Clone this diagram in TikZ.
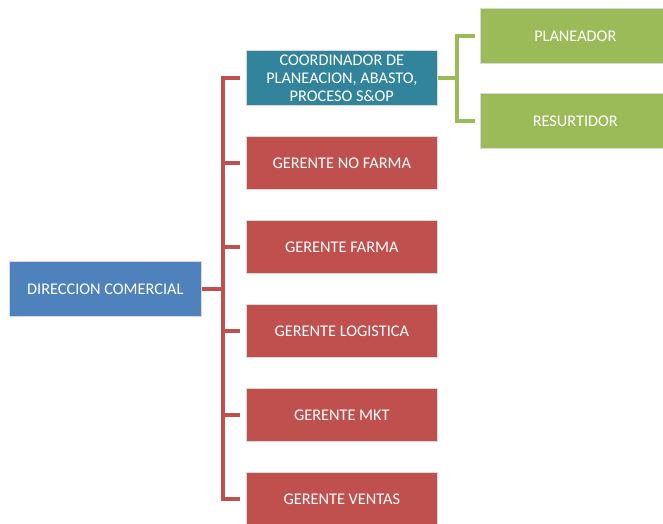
\documentclass[tikz,border=0pt]{standalone}
\usepackage{fontspec}
\setmainfont{Carlito}
\begin{document}
\begin{tikzpicture}[x=1pt,y=-1pt,
  box/.style={draw=white!85!black, line width=0.6pt, text=white, font=\fontsize{16.3}{18}\selectfont, align=center, inner sep=0pt, anchor=north west},
  bluebox/.style={box, fill={rgb,255:red,79;green,129;blue,189}},
  tealbox/.style={box, fill={rgb,255:red,49;green,132;blue,155}},
  redbox/.style={box, fill={rgb,255:red,192;green,80;blue,77}},
  greenbox/.style={box, fill={rgb,255:red,155;green,187;blue,89}},
  redline/.style={draw={rgb,255:red,192;green,80;blue,77}, line width=4pt},
  greenline/.style={draw={rgb,255:red,155;green,187;blue,89}, line width=4pt}
]
\useasboundingbox (0,0) rectangle (663,523);
\node[bluebox, minimum width=192pt, minimum height=55pt] (dc) at (9,261) {DIRECCION COMERCIAL};
\node[tealbox, minimum width=191pt, minimum height=55pt] (co) at (246,50) {COORDINADOR DE\\PLANEACION, ABASTO,\\PROCESO S\&OP};
\node[redbox, minimum width=191pt, minimum height=53pt] (g1) at (246,136) {GERENTE NO FARMA};
\node[redbox, minimum width=191pt, minimum height=53pt] (g2) at (246,220) {GERENTE FARMA};
\node[redbox, minimum width=191pt, minimum height=53pt] (g3) at (246,304) {GERENTE LOGISTICA};
\node[redbox, minimum width=191pt, minimum height=53pt] (g4) at (246,388) {GERENTE MKT};
\node[redbox, minimum width=191pt, minimum height=53pt] (g5) at (246,472) {GERENTE VENTAS};
\node[greenbox, minimum width=190pt, minimum height=55pt] (p1) at (480,8) {PLANEADOR};
\node[greenbox, minimum width=190pt, minimum height=55pt] (p2) at (480,93) {RESURTIDOR};
\coordinate (rj) at (223,0);
\coordinate (gj) at (457,0);
\draw[redline] (dc.east) -- (rj |- dc.east);
\foreach \n in {co,g1,g2,g3,g4,g5}{
  \draw[redline, shorten >=6pt] (rj |- dc.east) |- (\n.west);
}
\draw[greenline] (co.east) -- (gj |- co.east);
\foreach \n in {p1,p2}{
  \draw[greenline, shorten >=5pt] (gj |- co.east) |- (\n.west);
}
\end{tikzpicture}
\end{document}
